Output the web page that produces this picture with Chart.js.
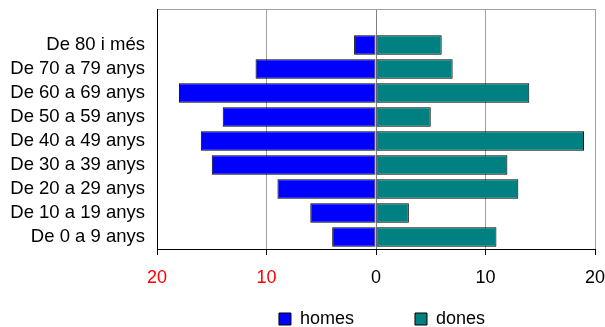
<!DOCTYPE html>
<html>
<head>
<meta charset="utf-8">
<script src="https://cdn.jsdelivr.net/npm/chart.js@4.4.1/dist/chart.umd.min.js"></script>
<style>
  body { margin: 0; background: #fff; }
</style>
</head>
<body>
<canvas id="chart" width="605" height="327"></canvas>
<script>
// grups d'edat, de dalt a baix
const ageGroups = ['De 80 i més', 'De 70 a 79 anys', 'De 60 a 69 anys', 'De 50 a 59 anys',
  'De 40 a 49 anys', 'De 30 a 39 anys', 'De 20 a 29 anys', 'De 10 a 19 anys', 'De 0 a 9 anys'];
const homes = [2, 11, 18, 14, 16, 15, 9, 6, 4];
const dones = [6, 7, 14, 5, 19, 12, 13, 3, 11];
const tickValues = [-20, -10, 0, 10, 20];

Chart.defaults.font.family = '"Liberation Sans", Arial, sans-serif';
Chart.defaults.font.size = 18;
Chart.defaults.color = '#000';

// fila buida a dalt, com a l'original
const labels = [''].concat(ageGroups);

// l'eix x no ocupa alçada (la llegenda va just a sota), però les etiquetes s'han de veure
const bottomLayout = {
  id: 'bottomLayout',
  afterLayout: c => {
    c.scales.x.bottom = c.height;
    c.legend.left += 6;
    c.legend.right += 6;
  }
};

new Chart(document.getElementById('chart'), {
  type: 'bar',
  data: {
    labels: labels,
    datasets: [
      {
        label: 'homes',
        data: [null].concat(homes.map(v => -v)),
        backgroundColor: '#0000ff',
        borderColor: '#000',
        borderWidth: 1,
        borderSkipped: false
      },
      {
        label: 'dones',
        data: [null].concat(dones),
        backgroundColor: '#008080',
        borderColor: '#000',
        borderWidth: 1,
        borderSkipped: false
      }
    ]
  },
  options: {
    indexAxis: 'y',
    responsive: false,
    animation: false,
    devicePixelRatio: 1,
    barPercentage: 0.82,
    categoryPercentage: 1,
    layout: { padding: { top: 9, right: 10, left: 0, bottom: 0 } },
    scales: {
      x: {
        stacked: true,
        min: -20,
        max: 20,
        afterBuildTicks: s => { s.ticks = tickValues.map(v => ({ value: v })); },
        afterFit: s => {
          s.height = 0;
          s.paddingLeft = 0;
          s.paddingRight = 0;
        },
        grid: {
          color: c => (c.tick && c.tick.value === 0) ? '#808080' : '#a0a0a0',
          tickColor: '#000',
          tickLength: 6
        },
        border: { color: '#000', width: 1 },
        ticks: {
          padding: 12,
          color: c => (c.tick && c.tick.value < 0) ? '#ff0000' : '#000',
          callback: v => Math.abs(v)
        }
      },
      y: {
        stacked: true,
        afterFit: s => {
          s.width = 157;
          s.paddingTop = 0;
          s.paddingBottom = 0;
        },
        grid: {
          offset: true,
          drawTicks: false,
          color: c => c.index === 0 ? '#a0a0a0' : 'rgba(0,0,0,0)'
        },
        border: { color: '#000', width: 1 },
        ticks: { padding: 12, autoSkip: false, font: { size: 18.5 } }
      }
    },
    plugins: {
      tooltip: { enabled: false },
      legend: {
        position: 'bottom',
        fullSize: false,
        maxHeight: 78,
        labels: {
          boxWidth: 12,
          boxHeight: 12,
          padding: 61,
          color: '#000'
        }
      }
    }
  },
  plugins: [bottomLayout]
});
</script>
</body>
</html>
